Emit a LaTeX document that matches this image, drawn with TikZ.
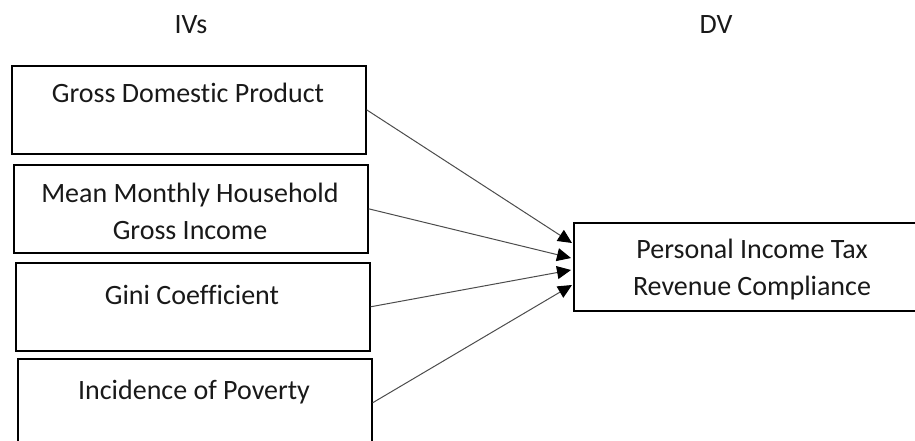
\documentclass[tikz,border=0pt]{standalone}
\usepackage{fontspec}
\setmainfont{Carlito}[Ligatures={NoCommon}]
\usetikzlibrary{arrows.meta,calc}
\begin{document}
\begin{tikzpicture}[x=1pt,y=-1pt,
  ivbox/.style={draw=black,line width=1.6pt,minimum width=354pt,minimum height=88pt,inner sep=0pt,anchor=north west},
  lbl/.style={font=\fontsize{28}{37}\selectfont,align=center,inner sep=0pt,text=black!90},
  conn/.style={draw=black!70,line width=1pt,-{Triangle[length=14pt,width=13pt,color=black]}}]
\useasboundingbox (0,0) rectangle (915,441);
\node[lbl] (iv) at (191,25) {IVs};
\node[lbl] (dvl) at (716,25) {DV};
\node[ivbox] (b1) at (11,65) {};
\node[ivbox] (b2) at (13,164) {};
\node[ivbox] (b3) at (15,262) {};
\node[ivbox] (b4) at (17,358) {};
\node[draw=black,line width=1.6pt,minimum width=345pt,minimum height=88pt,inner sep=0pt,anchor=north west] (dv) at (573,222) {};
\node[lbl] (t1) at (188,93) {Gross Domestic Product};
\node[lbl] (t2) at (190,211) {Mean Monthly Household\\Gross Income};
\node[lbl] (t3) at (192,295) {Gini Coefficient};
\node[lbl] (t4) at (194,392) {Incidence of Poverty};
\node[lbl] (t5) at (752,270) {Personal Income Tax\\Revenue Compliance};
\coordinate (e1) at (572,243);
\coordinate (e2) at (571,258);
\coordinate (e3) at (571,270);
\coordinate (e4) at (572,285);
\draw[conn] (b1.east) -- (e1);
\draw[conn] (b2.east) -- (e2);
\draw[conn] (b3.east) -- (e3);
\draw[conn] (b4.east) -- (e4);
\end{tikzpicture}
\end{document}
